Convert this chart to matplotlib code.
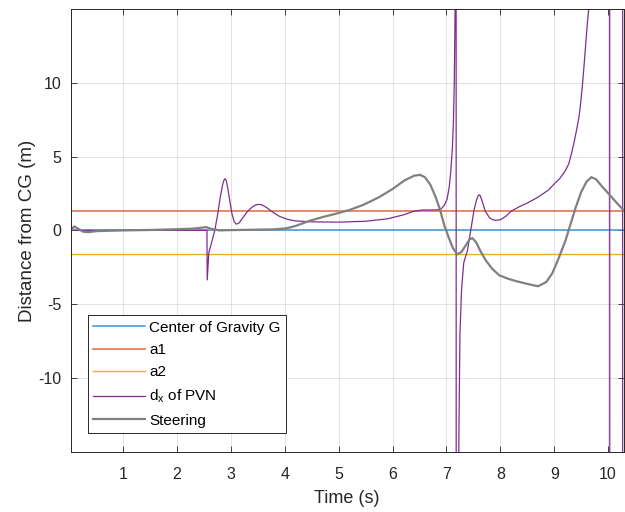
import numpy as np
import matplotlib
matplotlib.use('Agg')
import matplotlib.pyplot as plt

plt.rcParams['font.family'] = ['Liberation Sans', 'DejaVu Sans']
plt.rcParams['mathtext.default'] = 'regular'
plt.rcParams['axes.unicode_minus'] = False

# time limits of the plot
t_span = [0.025, 10.29]

# constant reference lines (m)
cg_value = 0.0
a1_value = 1.32
a2_value = -1.57

# d_x of PVN
t_pvn = [0.03, 0.5, 1.0, 1.5, 2.0, 2.5, 2.555, 2.56, 2.59, 2.65, 2.70, 2.75, 2.80,
         2.84, 2.87, 2.89, 2.91, 2.94, 2.97, 3.02, 3.06, 3.10, 3.15, 3.22, 3.30,
         3.40, 3.46, 3.52, 3.58, 3.66, 3.75, 3.90, 4.05, 4.2, 4.5, 5.0, 5.5, 5.9,
         6.2, 6.4, 6.55, 6.8,
         6.9, 6.96, 7.01, 7.05, 7.08, 7.11, 7.13, 7.145, 7.16, 7.17, 7.19, 7.21,
         7.23, 7.25, 7.28, 7.32, 7.39, 7.45, 7.51, 7.56, 7.59, 7.61, 7.63, 7.66,
         7.72, 7.80, 7.86, 7.91, 8.0, 8.1, 8.2, 8.35, 8.5, 8.7, 8.9, 9.0, 9.1,
         9.2, 9.27, 9.32, 9.37, 9.42, 9.46, 9.49, 9.52, 9.55, 9.58, 9.61, 9.64,
         9.7, 9.8, 10.02, 10.04, 10.26, 10.28]
d_pvn = [0.0, 0.0, 0.0, 0.0, 0.0, 0.0, 0.0, -3.35, -1.5, -0.7, 0.0, 1.0, 2.2,
         3.0, 3.4, 3.5, 3.4, 2.9, 2.2, 1.1, 0.6, 0.42, 0.5, 0.85, 1.25,
         1.6, 1.72, 1.76, 1.72, 1.55, 1.3, 0.95, 0.75, 0.64, 0.58, 0.56, 0.62, 0.78,
         1.05, 1.3, 1.38, 1.38,
         1.45, 1.7, 2.1, 2.9, 4.0, 5.6, 7.5, 10.0, 15.0, 300.0, -300.0, -40.0,
         -14.0, -7.0, -4.0, -2.2, -1.35, 0.0, 1.35, 2.1, 2.35, 2.41, 2.33, 2.0,
         1.3, 0.85, 0.72, 0.68, 0.72, 0.95, 1.3, 1.6, 1.85, 2.25, 2.75, 3.15, 3.5,
         4.0, 4.5, 5.2, 6.0, 6.9, 7.7, 8.6, 9.7, 11.0, 12.4, 13.8, 15.0,
         40.0, 300.0, 300.0, -300.0, -300.0, 300.0]

# steering
t_steer = [0.03, 0.09, 0.15, 0.25, 0.35, 0.5, 1.0, 1.5, 2.0, 2.3, 2.54, 2.62, 2.79,
           3.0, 3.5, 3.8, 4.03, 4.2, 4.46, 4.7, 4.95, 5.2, 5.45, 5.6, 5.75, 6.0,
           6.22, 6.4, 6.51, 6.6, 6.7, 6.8, 6.88, 6.96, 7.05, 7.12, 7.20, 7.28,
           7.36, 7.43, 7.48, 7.55, 7.63, 7.73, 7.85, 7.98, 8.15, 8.31, 8.5, 8.7,
           8.85, 8.96, 9.08, 9.21, 9.30, 9.40, 9.5, 9.6, 9.69, 9.78, 9.88, 10.01,
           10.15, 10.29]
d_steer = [0.0, 0.27, 0.15, -0.08, -0.12, -0.05, 0.0, 0.03, 0.08, 0.12, 0.22, 0.12, 0.0,
           0.02, 0.05, 0.07, 0.14, 0.3, 0.65, 0.9, 1.13, 1.38, 1.72, 1.98, 2.25, 2.8,
           3.38, 3.7, 3.76, 3.6, 3.1, 2.25, 1.4, 0.34, -0.56, -1.2, -1.62, -1.45,
           -1.0, -0.6, -0.52, -0.8, -1.4, -2.03, -2.6, -3.04, -3.28, -3.45, -3.62, -3.78,
           -3.5, -2.93, -1.9, -0.68, 0.4, 1.57, 2.6, 3.3, 3.6, 3.45, 3.0, 2.48,
           1.9, 1.35]

x_ticks = [1, 2, 3, 4, 5, 6, 7, 8, 9, 10]
y_ticks = [-10, -5, 0, 5, 10]

fig = plt.figure(figsize=(6.25, 5.12), dpi=100)
ax = fig.add_axes([0.113, 0.117, 0.885, 0.866])

ax.plot(t_span, [cg_value, cg_value], color='#3d95d6', lw=1.1, label='Center of Gravity G')
ax.plot(t_span, [a1_value, a1_value], color='#e3805f', lw=1.3, label='a1')
ax.plot(t_span, [a2_value, a2_value], color='#edb120', lw=1.0, label='a2')
ax.plot(t_pvn, d_pvn, color='#7e2f8e', lw=0.9, label=r'd$_x$ of PVN')
ax.plot(t_steer, d_steer, color='#808080', lw=1.6, label='Steering')

ax.set_xlim(t_span)
ax.set_ylim(-15, 15)
ax.set_xticks(x_ticks)
ax.set_yticks(y_ticks)
ax.grid(True, color='#262626', alpha=0.15, lw=0.6)
ax.tick_params(direction='in', top=True, right=True, length=4, width=0.6,
               labelsize=11.5, colors='#262626')
ax.tick_params(axis='x', pad=10.5)
ax.tick_params(axis='y', pad=6.5)
for sp in ax.spines.values():
    sp.set_color('#262626')
    sp.set_linewidth(0.7)

ax.set_xlabel('Time (s)', fontsize=13, color='#262626', labelpad=6)
ax.set_ylabel('Distance from CG (m)', fontsize=13.5, color='#262626', labelpad=2)

leg = ax.legend(loc='lower left', bbox_to_anchor=(0.031, 0.043), fontsize=11,
                frameon=True, fancybox=False, framealpha=1, edgecolor='#262626',
                handlelength=3.4, handletextpad=0.27, borderaxespad=0,
                labelspacing=0.55, borderpad=0.35)
leg.get_frame().set_linewidth(0.7)

fig.savefig('out.png', dpi=100)
